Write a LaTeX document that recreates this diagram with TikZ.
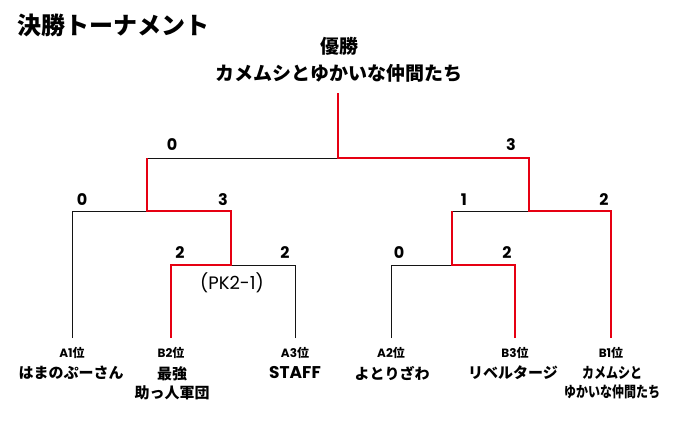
\documentclass[tikz,border=0pt]{standalone}
\usepackage{fontspec}
\setmainfont{Noto Sans CJK JP}
\newfontfamily\lat{Poppins}
\usetikzlibrary{positioning,calc}
\definecolor{WinRed}{RGB}{230,0,18}
\definecolor{LoseGray}{RGB}{20,20,20}

\begin{document}
\begin{tikzpicture}[
   x=1pt,y=-1pt,
   lose/.style={draw=LoseGray,line width=0.9pt},
   win/.style ={draw=WinRed,line width=2pt,line join=miter},
   seed/.style={inner sep=0pt,font=\fontsize{12}{12}\selectfont\bfseries},
   team/.style={inner sep=0pt,align=center,font=\fontsize{15}{19}\selectfont\bfseries},
   score/.style={inner sep=0pt,font=\lat\fontsize{16}{16}\selectfont\bfseries}]
   \useasboundingbox (0,0) rectangle (680,440);
   % heading
   \node[inner sep=0pt,anchor=west,font=\fontsize{24}{26}\selectfont\bfseries] (title) at (17,25) {決勝トーナメント};
   \node[inner sep=0pt,font=\fontsize{19}{22}\selectfont\bfseries] (yusho) at (339,46) {優勝};
   \node[inner sep=0pt,font=\fontsize{19}{22}\selectfont\bfseries] (winner) at (339,73) {カメムシとゆかいな仲間たち};
   % bracket points
   \coordinate (a1) at (72,338);
   \coordinate (b2) at (171,338);
   \coordinate (a3) at (295,338);
   \coordinate (a2) at (391,338);
   \coordinate (b3) at (515,338);
   \coordinate (b1) at (611,338);
   \coordinate (q1) at (231,265);
   \coordinate (q2) at (452,265);
   \coordinate (s1) at (147,211);
   \coordinate (s2) at (529,211);
   \coordinate (f)  at (338,158);
   \coordinate (top) at (338,93);
   % losing lines
   \draw[lose] (a1) |- (s1);
   \draw[lose] (a3) |- (q1);
   \draw[lose] (a2) |- (q2);
   \draw[lose] (s1 |- f) -- (f);
   \draw[lose] (q2 |- s2) -- (s2);
   % winning lines
   \draw[win] (b2) |- (q1) |- (s1) -- (s1 |- f);
   \draw[win] (b3) |- (q2) -- (q2 |- s2);
   \draw[win] (b1) |- (s2) |- (f) -- (top);
   % scores
   \node[score] (sf1) at (172,145) {0};
   \node[score] (sf2) at (511,145) {3};
   \node[score] (ss1) at (82,200) {0};
   \node[score] (ss2) at (223,200) {3};
   \node[score] (sq1) at (180,253) {2};
   \node[score] (sq2) at (285,253) {2};
   \node[score] (ss3) at (464,200) {1};
   \node[score] (ss4) at (604,200) {2};
   \node[score] (sq3) at (399,253) {0};
   \node[score] (sq4) at (507,253) {2};
   \node[inner sep=0pt,font=\lat\fontsize{18}{18}\selectfont] (pk) at (232,283) {(PK2-1)};
   % teams
   \node[seed] (a1s) at (72,353) {{\lat A1}位};
   \node[seed] (b2s) at (171,353) {{\lat B2}位};
   \node[seed] (a3s) at (295,353) {{\lat A3}位};
   \node[seed] (a2s) at (391,353) {{\lat A2}位};
   \node[seed] (b3s) at (515,353) {{\lat B3}位};
   \node[seed] (b1s) at (611,353) {{\lat B1}位};
   \node[team,anchor=north] (a1t) at (71,366) {はまのぷーさん};
   \node[team,anchor=north] (b2t) at (172,366) {最強\\助っ人軍団};
   \node[team,anchor=north] (a3t) at (295,366) {\lat\fontsize{17}{19}\selectfont STAFF};
   \node[team,anchor=north] (a2t) at (392,366) {よとりざわ};
   \node[team,anchor=north] (b3t) at (513,366) {リベルタージ};
   \node[team,anchor=north] (b1t) at (612,366) {\scalebox{0.8}[1]{カメムシと}\\\scalebox{0.8}[1]{ゆかいな仲間たち}};
\end{tikzpicture}
\end{document}
